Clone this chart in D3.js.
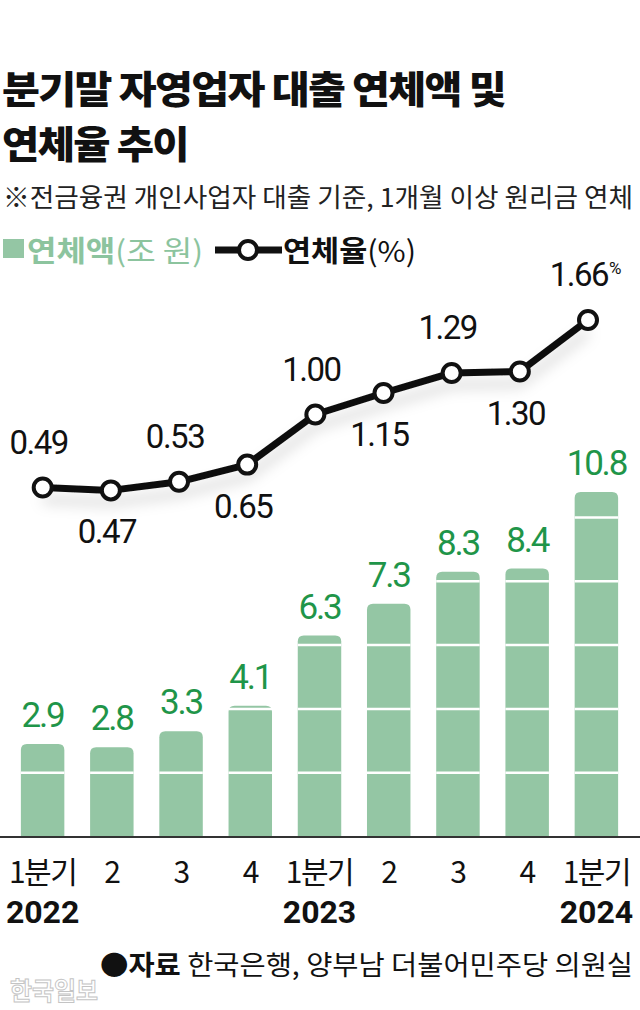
<!DOCTYPE html>
<html><head><meta charset="utf-8">
<script src="https://cdn.jsdelivr.net/npm/d3@7"></script>
<style>
html,body{margin:0;padding:0;background:#fff;}
svg{display:block;}
</style></head>
<body>
<script>
// ---- data ----
const quarters = ["1분기","2","3","4","1분기","2","3","4","1분기"];
const years = ["2022","","","","2023","","","","2024"];
const amounts = [2.9, 2.8, 3.3, 4.1, 6.3, 7.3, 8.3, 8.4, 10.8];   // 연체액 (조 원)
const rates = [0.49, 0.47, 0.53, 0.65, 1.00, 1.15, 1.29, 1.30, 1.66]; // 연체율 (%)
const rateLabelSide = ["above","below","above","below","above","below","above","below","above"];
const gridTicks = [2, 4, 6, 8, 10];
const title1 = "분기말 자영업자 대출 연체액 및";
const title2 = "연체율 추이";
const subtitle = "※전금융권 개인사업자 대출 기준, 1개월 이상 원리금 연체";
const sourceLabel = "자료";
const sourceText = "한국은행, 양부남 더불어민주당 의원실";

const W = 640, H = 1010;
const KR = "'Noto Sans CJK KR','Noto Sans',sans-serif";
const NUM = "Roboto,'Noto Sans',sans-serif";
const barColor = "#94c6a4";
const greenText = "#1f9549";

const svg = d3.select("body").append("svg").attr("width", W).attr("height", H);

const defs = svg.append("defs");
const f = defs.append("filter").attr("id","shadow").attr("x","-20%").attr("y","-50%").attr("width","140%").attr("height","250%");
f.append("feDropShadow").attr("dx",0).attr("dy",12).attr("stdDeviation",7)
 .attr("flood-color","#000").attr("flood-opacity",0.17);

// ---- title ----
svg.append("text").attr("x",2).attr("y",103).attr("font-family",KR).attr("font-weight",900)
  .attr("font-size",38).attr("letter-spacing",-1.5).attr("fill","#111")
  .attr("textLength",503).attr("lengthAdjust","spacingAndGlyphs").text(title1);
svg.append("text").attr("x",2).attr("y",158).attr("font-family",KR).attr("font-weight",900)
  .attr("font-size",38).attr("letter-spacing",-1.5).attr("fill","#111")
  .attr("textLength",186).attr("lengthAdjust","spacingAndGlyphs").text(title2);
svg.append("text").attr("x",3).attr("y",207).attr("font-family",KR).attr("font-weight",400)
  .attr("font-size",26).attr("fill","#222")
  .attr("textLength",630).attr("lengthAdjust","spacingAndGlyphs").text(subtitle);

// ---- legend ----
svg.append("rect").attr("x",3).attr("y",239).attr("width",21).attr("height",19).attr("fill",barColor);
const lg1 = svg.append("text").attr("x",27).attr("y",262).attr("font-family",KR)
  .attr("font-size",29).attr("fill","#8cc49e").attr("textLength",176).attr("lengthAdjust","spacingAndGlyphs");
lg1.append("tspan").attr("font-weight",700).text("연체액");
lg1.append("tspan").attr("font-weight",400).text("(조 원)");
svg.append("line").attr("x1",215).attr("x2",282).attr("y1",250).attr("y2",250)
  .attr("stroke","#111").attr("stroke-width",7);
svg.append("circle").attr("cx",248).attr("cy",250).attr("r",9).attr("fill","#fff")
  .attr("stroke","#111").attr("stroke-width",4);
const lg2 = svg.append("text").attr("x",283).attr("y",262).attr("font-family",KR)
  .attr("font-size",29).attr("fill","#111").attr("textLength",133).attr("lengthAdjust","spacingAndGlyphs");
lg2.append("tspan").attr("font-weight",700).text("연체율");
lg2.append("tspan").attr("font-weight",400).text("(%)");

// ---- scales ----
const idx = d3.range(amounts.length);
const xBar = d3.scaleBand().domain(idx).range([8, 631]).paddingInner(0.372).paddingOuter(0.186);
const yBar = d3.scaleLinear().domain([0, 10]).range([836.5, 517.5]);
const xLine = d3.scalePoint().domain(idx).range([42.7, 588]);
const yLine = d3.scaleLinear().domain([0, 2]).range([557.7, 271.3]);

// ---- bars ----
const bw = xBar.bandwidth(), r = 6;
const barG = svg.append("g");
idx.forEach(i => {
  const x0 = xBar(i), x1 = x0 + bw, yt = yBar(amounts[i]), yb = yBar(0);
  const p = d3.path();
  p.moveTo(x0, yb); p.lineTo(x0, yt + r);
  p.quadraticCurveTo(x0, yt, x0 + r, yt);
  p.lineTo(x1 - r, yt);
  p.quadraticCurveTo(x1, yt, x1, yt + r);
  p.lineTo(x1, yb); p.closePath();
  barG.append("path").attr("d", p.toString()).attr("fill", barColor);
  gridTicks.filter(t => t < amounts[i]).forEach(t => {
    barG.append("line").attr("x1", x0).attr("x2", x1).attr("y1", yBar(t)).attr("y2", yBar(t))
      .attr("stroke", "#fff").attr("stroke-width", 2.5);
  });
  barG.append("text").attr("x", x0 + bw/2).attr("y", yt - 17).attr("text-anchor","middle")
    .attr("font-family", NUM).attr("font-size", 35).attr("letter-spacing", -2.2)
    .attr("fill", greenText).text(d3.format(".1f")(amounts[i]));
});

// baseline
svg.append("line").attr("x1",0).attr("x2",W).attr("y1",yBar(0)+0.5).attr("y2",yBar(0)+0.5)
  .attr("stroke","#333").attr("stroke-width",2);

// ---- x axis labels ----
idx.forEach(i => {
  const cx = xBar(i) + bw/2;
  svg.append("text").attr("x", cx).attr("y", 883).attr("text-anchor","middle")
    .attr("font-family", KR).attr("font-size", 30).attr("letter-spacing", -1.5).attr("fill","#111")
    .text(quarters[i]);
  if (years[i]) {
    svg.append("text").attr("x", cx).attr("y", 923).attr("text-anchor","middle")
      .attr("font-family", NUM).attr("font-weight",700).attr("font-size", 32).attr("fill","#111")
      .text(years[i]);
  }
});

// ---- line ----
const line = d3.line().x((d,i) => xLine(i)).y(d => yLine(d));
svg.append("path").datum(rates).attr("d", line).attr("fill","none")
  .attr("stroke","#111").attr("stroke-width",7).attr("stroke-linejoin","round")
  .attr("filter","url(#shadow)");
svg.append("g").selectAll("circle").data(rates).join("circle")
  .attr("cx",(d,i)=>xLine(i)).attr("cy",d=>yLine(d)).attr("r",9)
  .attr("fill","#fff").attr("stroke","#111").attr("stroke-width",4);

rates.forEach((v,i) => {
  const above = rateLabelSide[i] === "above";
  const last = i === rates.length - 1;
  svg.append("text")
    .attr("x", xLine(i) - (last ? 9 : 4))
    .attr("y", yLine(v) + (above ? -34 : 53))
    .attr("text-anchor","middle").attr("font-family", NUM).attr("font-size", 33)
    .attr("letter-spacing", -1.5).attr("fill","#111").text(d3.format(".2f")(v));
  if (last) {
    svg.append("text").attr("x", xLine(i) + 21).attr("y", yLine(v) - 46)
      .attr("font-family", NUM).attr("font-size", 17).attr("fill","#111").text("%");
  }
});

// ---- source ----
const src = svg.append("text").attr("x", 633).attr("y", 975).attr("text-anchor","end")
  .attr("font-family", KR).attr("font-size", 27).attr("fill","#111")
  .attr("textLength", 533).attr("lengthAdjust","spacingAndGlyphs");
src.append("tspan").text("●");
src.append("tspan").attr("font-weight",700).text(sourceLabel);
src.append("tspan").text(" " + sourceText);

// watermark
svg.append("text").attr("x", 10).attr("y", 1000).attr("font-family", KR).attr("font-weight",700)
  .attr("font-size", 25).attr("fill","#fff").attr("stroke","#c4c4c4").attr("stroke-width",1)
  .attr("textLength",88).attr("lengthAdjust","spacingAndGlyphs").text("한국일보");
</script>
</body></html>
